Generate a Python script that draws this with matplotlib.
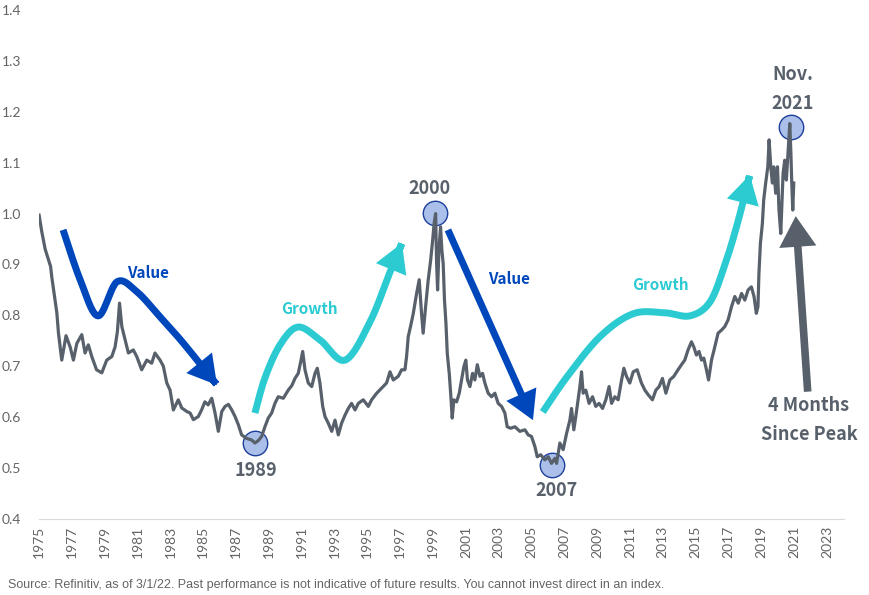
import numpy as np
import matplotlib
matplotlib.use("Agg")
import matplotlib.pyplot as plt
from matplotlib.patches import FancyArrowPatch
from matplotlib.path import Path

# value/growth relative index (x = position on the year axis)
years = [
    1975.00, 1975.16, 1975.37, 1975.70, 1975.77, 1975.97, 1976.08, 1976.18, 1976.38, 1976.64,
    1976.89, 1977.09, 1977.30, 1977.60, 1977.80, 1978.00, 1978.21, 1978.50, 1978.82, 1979.12,
    1979.43, 1979.63, 1979.77, 1979.90, 1980.04, 1980.24, 1980.44, 1980.74, 1980.95, 1981.25,
    1981.56, 1981.86, 1982.06, 1982.37, 1982.57, 1982.78, 1982.98, 1983.18, 1983.48, 1983.69,
    1984.00, 1984.20, 1984.40, 1984.70, 1984.90, 1985.10, 1985.30, 1985.52, 1985.72, 1985.92,
    1986.13, 1986.33, 1986.53, 1986.74, 1986.94, 1987.14, 1987.34, 1987.65, 1987.95, 1988.15,
    1988.36, 1988.56, 1988.76, 1988.96, 1989.17, 1989.37, 1989.57, 1989.88, 1990.18, 1990.40,
    1990.59, 1990.79, 1990.94, 1991.06, 1991.20, 1991.40, 1991.61, 1991.81, 1991.95, 1992.11,
    1992.28, 1992.42, 1992.62, 1992.83, 1993.03, 1993.23, 1993.43, 1993.64, 1993.84, 1994.04,
    1994.25, 1994.45, 1994.75, 1995.06, 1995.26, 1995.57, 1995.87, 1996.17, 1996.38, 1996.58,
    1996.88, 1997.09, 1997.29, 1997.39, 1997.49, 1997.63, 1997.80, 1998.00, 1998.16, 1998.30,
    1998.40, 1998.57, 1998.71, 1998.86, 1998.98, 1999.07, 1999.16, 1999.22, 1999.28, 1999.36,
    1999.46, 1999.54, 1999.62, 1999.70, 1999.79, 1999.87, 1999.99, 2000.09, 2000.17, 2000.27,
    2000.44, 2000.60, 2000.74, 2000.88, 2001.00, 2001.10, 2001.25, 2001.41, 2001.55, 2001.70,
    2001.86, 2002.02, 2002.16, 2002.36, 2002.57, 2002.77, 2002.97, 2003.18, 2003.38, 2003.52,
    2003.73, 2003.99, 2004.29, 2004.60, 2004.80, 2005.00, 2005.21, 2005.35, 2005.56, 2005.82,
    2006.02, 2006.22, 2006.43, 2006.53, 2006.73, 2006.93, 2007.14, 2007.34, 2007.44, 2007.58,
    2007.70, 2007.84, 2007.95, 2008.05, 2008.15, 2008.31, 2008.51, 2008.72, 2008.92, 2009.12,
    2009.33, 2009.53, 2009.73, 2009.88, 2010.08, 2010.28, 2010.49, 2010.63, 2010.79, 2010.99,
    2011.20, 2011.44, 2011.70, 2011.91, 2012.11, 2012.37, 2012.58, 2012.78, 2012.98, 2013.19,
    2013.43, 2013.67, 2013.93, 2014.14, 2014.34, 2014.54, 2014.75, 2014.89, 2015.05, 2015.21,
    2015.36, 2015.50, 2015.66, 2015.79, 2015.97, 2016.17, 2016.37, 2016.58, 2016.78, 2016.98,
    2017.19, 2017.39, 2017.60, 2017.80, 2018.00, 2018.20, 2018.40, 2018.56, 2018.70, 2018.80,
    2018.86, 2018.95, 2019.07, 2019.15, 2019.27, 2019.40, 2019.48, 2019.58, 2019.68, 2019.76,
    2019.88, 2019.99, 2020.08, 2020.19, 2020.27, 2020.33, 2020.43, 2020.53, 2020.63, 2020.74,
    2020.80, 2020.86, 2020.92, 2020.98,
]
ratio = [
    0.997, 0.965, 0.930, 0.896, 0.876, 0.830, 0.805, 0.765, 0.712, 0.760,
    0.738, 0.712, 0.745, 0.762, 0.726, 0.742, 0.719, 0.693, 0.687, 0.712,
    0.719, 0.738, 0.768, 0.824, 0.778, 0.752, 0.726, 0.732, 0.719, 0.693,
    0.712, 0.706, 0.726, 0.712, 0.700, 0.667, 0.653, 0.614, 0.634, 0.618,
    0.611, 0.608, 0.595, 0.601, 0.614, 0.630, 0.624, 0.637, 0.608, 0.572,
    0.611, 0.621, 0.625, 0.614, 0.601, 0.585, 0.565, 0.558, 0.555, 0.549,
    0.554, 0.562, 0.581, 0.598, 0.608, 0.627, 0.640, 0.637, 0.653, 0.662,
    0.676, 0.686, 0.709, 0.729, 0.693, 0.667, 0.660, 0.686, 0.696, 0.667,
    0.621, 0.601, 0.588, 0.572, 0.594, 0.565, 0.588, 0.604, 0.617, 0.627,
    0.614, 0.627, 0.634, 0.621, 0.634, 0.647, 0.657, 0.667, 0.689, 0.673,
    0.680, 0.693, 0.693, 0.719, 0.758, 0.778, 0.804, 0.843, 0.870, 0.804,
    0.765, 0.824, 0.870, 0.909, 0.948, 0.981, 1.000, 0.902, 0.850, 0.928,
    0.974, 0.928, 0.902, 0.830, 0.784, 0.725, 0.686, 0.640, 0.598, 0.634,
    0.630, 0.647, 0.673, 0.699, 0.712, 0.673, 0.660, 0.686, 0.673, 0.703,
    0.680, 0.686, 0.667, 0.647, 0.640, 0.647, 0.627, 0.621, 0.608, 0.581,
    0.578, 0.581, 0.572, 0.575, 0.565, 0.562, 0.542, 0.522, 0.526, 0.516,
    0.522, 0.509, 0.519, 0.509, 0.549, 0.536, 0.568, 0.594, 0.617, 0.575,
    0.601, 0.634, 0.660, 0.689, 0.647, 0.653, 0.627, 0.640, 0.621, 0.627,
    0.617, 0.634, 0.660, 0.627, 0.640, 0.634, 0.673, 0.696, 0.680, 0.667,
    0.689, 0.693, 0.667, 0.653, 0.644, 0.634, 0.653, 0.660, 0.676, 0.647,
    0.673, 0.680, 0.693, 0.703, 0.712, 0.732, 0.748, 0.738, 0.722, 0.729,
    0.712, 0.716, 0.693, 0.673, 0.712, 0.738, 0.765, 0.771, 0.778, 0.791,
    0.817, 0.837, 0.824, 0.843, 0.830, 0.850, 0.856, 0.837, 0.804, 0.817,
    0.883, 0.942, 0.981, 1.027, 1.060, 1.092, 1.145, 1.092, 1.060, 1.092,
    1.040, 1.092, 1.007, 0.961, 1.027, 1.079, 1.105, 1.066, 1.118, 1.177,
    1.125, 1.060, 1.007, 1.060,
]
tick_years = list(range(1975, 2024, 2))

# highlighted turning points
marks_x = [1988.15, 1999.12, 2006.24, 2020.80]
marks_y = [0.549, 1.001, 0.506, 1.170]
mark_labels = ["1989", "2000", "2007", "Nov.\n2021"]
label_pos = [(1988.2, 0.496), (1998.8, 1.050), (2006.5, 0.455), (2020.92, 1.245)]

# hand-drawn style arrows (control points)
value_arrow_1 = [(1976.46, 0.968), (1977.50, 0.870), (1978.59, 0.799), (1979.75, 0.866),
                 (1980.97, 0.846), (1982.37, 0.797), (1983.77, 0.746), (1985.84, 0.663)]
value_arrow_2 = [(1999.91, 0.968), (2005.09, 0.594)]
growth_arrow_1 = [(1988.15, 0.608), (1988.76, 0.677), (1989.68, 0.742), (1990.77, 0.777),
                  (1992.11, 0.752), (1993.64, 0.712), (1995.16, 0.787), (1996.38, 0.885),
                  (1997.11, 0.942)]
growth_arrow_2 = [(2005.69, 0.610), (2007.16, 0.679), (2009.17, 0.758), (2011.18, 0.803),
                  (2013.12, 0.805), (2014.65, 0.799), (2015.87, 0.826), (2016.78, 0.899),
                  (2017.57, 0.983), (2018.30, 1.076)]
peak_arrow = [(2021.83, 0.650), (2021.10, 0.995)]

LINE = "#58616b"
BLUE = "#0047bb"
TEAL = "#2ccbd2"
TICK = "#646464"
ANNOT_FONT = "Noto Sans CJK SC"


def smooth(pts, n=25):
    p = np.array(pts, float)
    if len(p) == 2:
        return p
    p = np.vstack([p[0], p, p[-1]])
    out = []
    t = np.linspace(0, 1, n, endpoint=False)[:, None]
    for i in range(1, len(p) - 2):
        p0, p1, p2, p3 = p[i - 1], p[i], p[i + 1], p[i + 2]
        out.append(0.5 * (2 * p1 + (-p0 + p2) * t + (2 * p0 - 5 * p1 + 4 * p2 - p3) * t ** 2
                          + (-p0 + 3 * p1 - 3 * p2 + p3) * t ** 3))
    out.append(p[-2][None])
    return np.vstack(out)


def arrow(ax, pts, color, lw=5, hl=13, hw=7.5):
    path = Path(smooth(pts))
    a = FancyArrowPatch(path=path, arrowstyle="-|>,head_length=%s,head_width=%s" % (hl, hw),
                        color=color, lw=lw, mutation_scale=1, shrinkA=0, shrinkB=0,
                        capstyle="butt", joinstyle="miter", zorder=4)
    ax.add_patch(a)


fig = plt.figure(figsize=(8.69, 5.95), dpi=100)
ax = fig.add_axes([0.045, 0.128, 0.926, 0.855])

ax.plot(years, ratio, color=LINE, lw=2.3, zorder=6)

arrow(ax, value_arrow_1, BLUE)
arrow(ax, value_arrow_2, BLUE)
arrow(ax, growth_arrow_1, TEAL)
arrow(ax, growth_arrow_2, TEAL)
arrow(ax, peak_arrow, LINE, lw=5.5, hl=14, hw=8.5)

ax.scatter(marks_x, marks_y, s=310, facecolor="#aac0ea", edgecolor="#1f3f9c",
           linewidth=1.0, zorder=5)

bold = dict(family=ANNOT_FONT, fontweight="bold", ha="center", va="center")
for (lx, ly), txt in zip(label_pos, mark_labels):
    ax.text(lx, ly, txt, color=LINE, fontsize=13, linespacing=1.65, **bold)
ax.text(2021.9, 0.594, "4 Months\nSince Peak", color=LINE, fontsize=13,
        linespacing=1.65, **bold)
ax.text(1981.64, 0.883, "Value", color=BLUE, fontsize=11, **bold)
ax.text(2003.62, 0.871, "Value", color=BLUE, fontsize=11, **bold)
ax.text(1991.5, 0.813, "Growth", color=TEAL, fontsize=11, **bold)
ax.text(2012.88, 0.860, "Growth", color=TEAL, fontsize=11, **bold)

ax.set_xlim(1975, 2024.03)
ax.set_ylim(0.4, 1.4)
ax.set_yticks(np.arange(0.4, 1.41, 0.1))
ax.set_yticklabels(["%.1f" % v for v in np.arange(0.4, 1.41, 0.1)])
ax.set_xticks(tick_years)
ax.set_xticklabels([str(y) for y in tick_years], rotation=90)
for lab in ax.get_xticklabels() + ax.get_yticklabels():
    lab.set_family("Lato")
    lab.set_fontsize(10)
    lab.set_color(TICK)
ax.tick_params(axis="both", length=0)
ax.tick_params(axis="y", pad=13)
ax.tick_params(axis="x", pad=5)
for s in ["top", "right", "left"]:
    ax.spines[s].set_visible(False)
ax.spines["bottom"].set_color("#d9d9d9")

fig.text(0.009, 0.012, "Source: Refinitiv, as of 3/1/22. Past performance is not indicative of future "
         "results. You cannot invest direct in an index.", family="Liberation Sans",
         fontsize=9, color=TICK)

fig.savefig("out.png", dpi=100)
